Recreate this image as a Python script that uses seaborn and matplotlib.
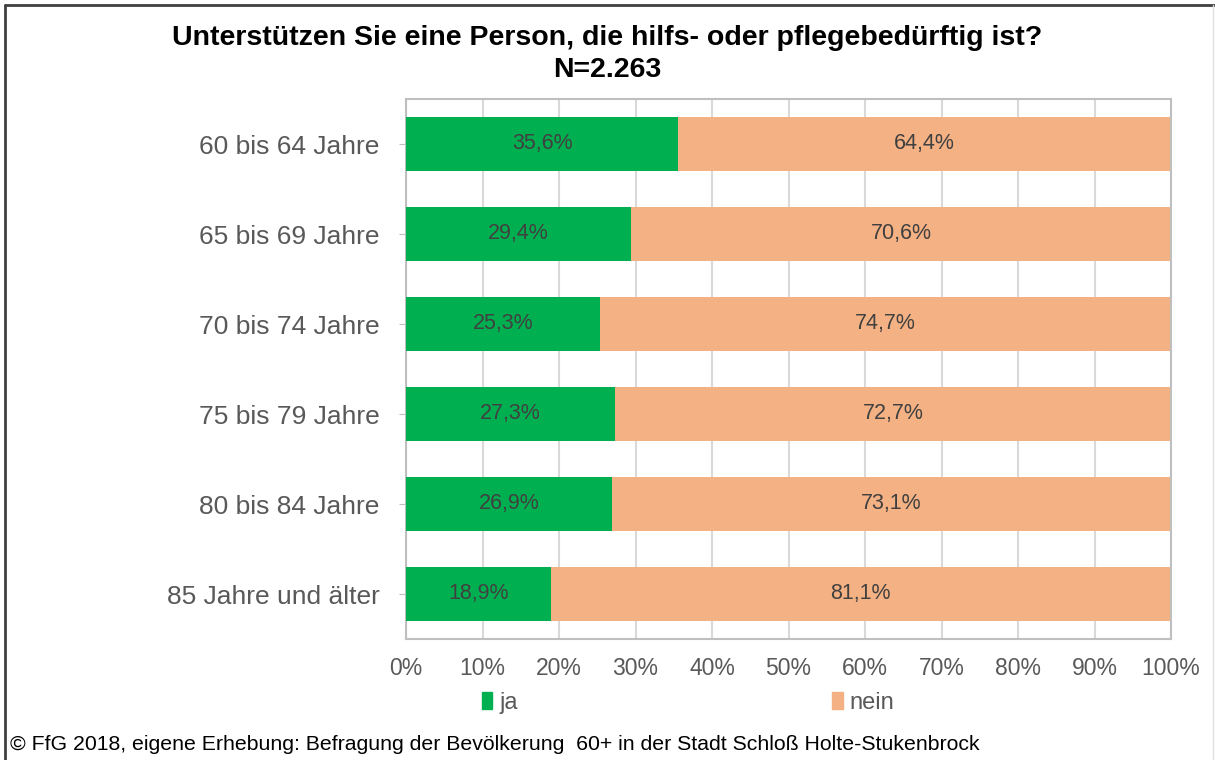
import matplotlib
matplotlib.use("Agg")
import matplotlib.pyplot as plt
import matplotlib.patches as mpatches
import seaborn as sns
import pandas as pd

categories = ['60 bis 64 Jahre', '65 bis 69 Jahre', '70 bis 74 Jahre',
              '75 bis 79 Jahre', '80 bis 84 Jahre', '85 Jahre und älter']
ja = [35.6, 29.4, 25.3, 27.3, 26.9, 18.9]
nein = [64.4, 70.6, 74.7, 72.7, 73.1, 81.1]
x_ticks = [0, 10, 20, 30, 40, 50, 60, 70, 80, 90, 100]

_green = '#00B050'
_orange = '#F4B183'
_grid = '#D9D9D9'

df = pd.DataFrame({'Alter': categories, 'ja': ja, 'nein': nein})
df['gesamt'] = df['ja'] + df['nein']

sns.set_style('white')
plt.rcParams['font.family'] = ['Liberation Sans', 'DejaVu Sans']

fig = plt.figure(figsize=(12.15, 7.6), dpi=100)
ax = fig.add_axes([406/1215, 1 - 639/760, (1171-406)/1215, (639-99)/760])

# stacked bars: full bar in orange, 'ja' part on top in green
sns.barplot(data=df, y='Alter', x='gesamt', color=_orange, width=0.6,
            orient='h', ax=ax, zorder=2, saturation=1, linewidth=0)
sns.barplot(data=df, y='Alter', x='ja', color=_green, width=0.6,
            orient='h', ax=ax, zorder=3, saturation=1, linewidth=0)

for i, row in df.iterrows():
    ax.text(row['ja'] / 2, i, f"{row['ja']:.1f}%".replace('.', ','),
            ha='center', va='center', fontsize=15.5, color='#404040', zorder=4)
    ax.text(row['ja'] + row['nein'] / 2, i, f"{row['nein']:.1f}%".replace('.', ','),
            ha='center', va='center', fontsize=15.5, color='#404040', zorder=4)

ax.set_xlim(0, 100)
ax.set_ylim(5.5, -0.5)
ax.set_xticks(x_ticks)
ax.set_xticklabels([f'{t}%' for t in x_ticks])
ax.set_xlabel('')
ax.set_ylabel('')
ax.xaxis.grid(True, color=_grid, linewidth=1.5, zorder=0)
ax.set_axisbelow(True)
for s in ax.spines.values():
    s.set_color('#BFBFBF')
    s.set_linewidth(1.5)
    s.set_visible(True)
ax.tick_params(axis='x', length=0, labelsize=16.5, labelcolor='#595959', pad=13)
ax.tick_params(axis='y', direction='inout', length=10, color='#BFBFBF',
               labelsize=19, labelcolor='#595959', pad=14, left=True)

fig.text(0.5, 1 - 38/760, 'Unterstützen Sie eine Person, die hilfs- oder pflegebedürftig ist?',
         ha='center', va='center', fontsize=20.5, fontweight='bold', color='black')
fig.text(0.5, 1 - 70/760, 'N=2.263', ha='center', va='center',
         fontsize=20.5, fontweight='bold', color='black')

handles = [mpatches.Patch(color=_green, label='ja'),
           mpatches.Patch(color=_orange, label='nein')]
fig.legend(handles=handles, loc='center', bbox_to_anchor=(688/1215, 1 - 703/760),
           ncol=2, frameon=False, fontsize=17, columnspacing=13.3,
           handlelength=0.45, handleheight=0.75, handletextpad=0.3,
           labelcolor='#595959')

fig.text(10/1215, 1 - 745/760,
         '© FfG 2018, eigene Erhebung: Befragung der Bevölkerung  60+ in der Stadt Schloß Holte-Stukenbrock',
         ha='left', va='center', fontsize=15.3, color='black')

# outer frame
fig.add_artist(plt.Line2D([5/1215, 5/1215], [0, 1 - 5/760], transform=fig.transFigure,
                          color='#404040', linewidth=2))
fig.add_artist(plt.Line2D([5/1215, 1], [1 - 5/760, 1 - 5/760], transform=fig.transFigure,
                          color='#404040', linewidth=2))
fig.add_artist(plt.Line2D([1213/1215, 1213/1215], [0, 1 - 5/760], transform=fig.transFigure,
                          color='#E0E0E0', linewidth=1))

fig.savefig('out.png', dpi=100)
